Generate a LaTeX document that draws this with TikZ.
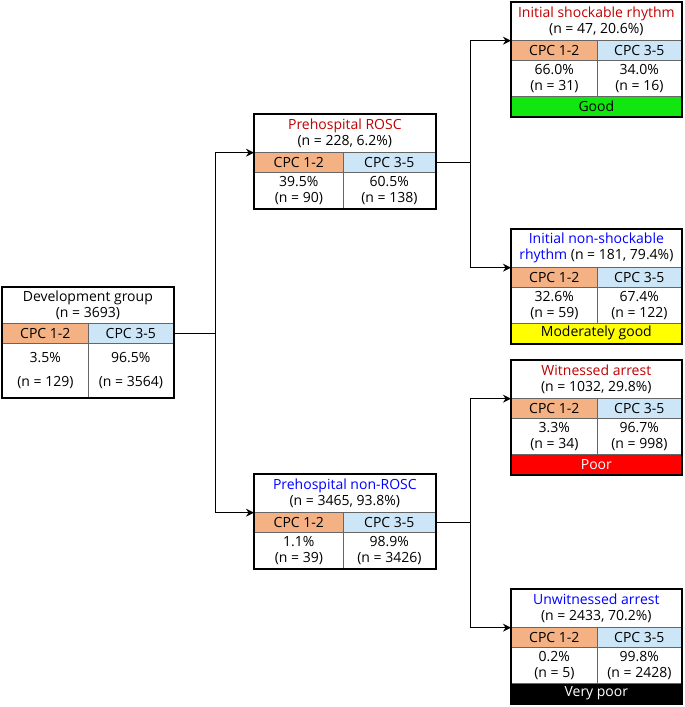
\documentclass[tikz,border=0pt]{standalone}
\usepackage{fontspec}
\setmainfont{Open Sans}
\usetikzlibrary{arrows.meta}

\definecolor{cpclow}{HTML}{F4B183}
\definecolor{cpchigh}{HTML}{CDE6F7}
\definecolor{txtred}{HTML}{C00000}
\definecolor{txtblue}{HTML}{0000FF}
\definecolor{vgood}{HTML}{11E611}
\definecolor{vmod}{HTML}{FFFF00}
\definecolor{vpoor}{HTML}{FF0000}

\tikzset{
  cell/.style={draw=black!60, line width=0.7pt, inner sep=0pt, anchor=north west,
    align=center, font=\fontsize{14}{16}\selectfont},
  titlecell/.style={cell, minimum height=38pt},
  lowhead/.style={cell, fill=cpclow, minimum height=20pt},
  highhead/.style={cell, fill=cpchigh, minimum height=20pt},
  valcell/.style={cell, minimum height=36pt},
  verdict/.style={cell, minimum height=20pt},
  outline/.style={line width=1.8pt},
  link/.style={line width=1.5pt},
  linkarrow/.style={line width=1.5pt, -{Stealth[length=8pt,width=8pt]}}
}

\begin{document}
\begin{tikzpicture}[x=1pt, y=-1pt]
\useasboundingbox (0,0) rectangle (685,707);
% development group
\node[titlecell, minimum width=171pt, minimum height=36pt] (devT) at (2,287) {Development group\\(n = 3693)};
\node[lowhead, minimum width=86pt] (devL) at (2,323) {CPC 1-2};
\node[highhead, minimum width=85pt] (devR) at (88,323) {CPC 3-5};
\node[valcell, minimum width=86pt, minimum height=54pt] (devLv) at (2,343) {3.5\%\\[8pt](n = 129)};
\node[valcell, minimum width=85pt, minimum height=54pt] (devRv) at (88,343) {96.5\%\\[8pt](n = 3564)};
\draw[outline] (devT.north west) rectangle (devRv.south east);
% prehospital ROSC
\node[titlecell, minimum width=181pt] (roscT) at (254,114) {\color{txtred}Prehospital ROSC\\(n = 228, 6.2\%)};
\node[lowhead, minimum width=89pt] (roscL) at (254,152) {CPC 1-2};
\node[highhead, minimum width=92pt] (roscR) at (343,152) {CPC 3-5};
\node[valcell, minimum width=89pt] (roscLv) at (254,172) {39.5\%\\(n = 90)};
\node[valcell, minimum width=92pt] (roscRv) at (343,172) {60.5\%\\(n = 138)};
\draw[outline] (roscT.north west) rectangle (roscRv.south east);
% prehospital non-ROSC
\node[titlecell, minimum width=181pt] (nroscT) at (254,474) {\color{txtblue}Prehospital non-ROSC\\(n = 3465, 93.8\%)};
\node[lowhead, minimum width=89pt] (nroscL) at (254,512) {CPC 1-2};
\node[highhead, minimum width=92pt] (nroscR) at (343,512) {CPC 3-5};
\node[valcell, minimum width=89pt] (nroscLv) at (254,532) {1.1\%\\(n = 39)};
\node[valcell, minimum width=92pt] (nroscRv) at (343,532) {98.9\%\\(n = 3426)};
\draw[outline] (nroscT.north west) rectangle (nroscRv.south east);
% initial shockable rhythm
\node[titlecell, minimum width=170pt] (shockT) at (511,2) {\color{txtred}Initial shockable rhythm\\(n = 47, 20.6\%)};
\node[lowhead, minimum width=86pt] (shockL) at (511,40) {CPC 1-2};
\node[highhead, minimum width=84pt] (shockR) at (597,40) {CPC 3-5};
\node[valcell, minimum width=86pt] (shockLv) at (511,60) {66.0\%\\(n = 31)};
\node[valcell, minimum width=84pt] (shockRv) at (597,60) {34.0\%\\(n = 16)};
\node[verdict, fill=vgood, minimum width=170pt] (shockV) at (511,96) {Good};
\draw[outline] (shockT.north west) rectangle (shockV.south east);
% initial non-shockable rhythm
\node[titlecell, minimum width=170pt] (nshockT) at (511,229) {{\color{txtblue}Initial non-shockable}\\{\color{txtblue}rhythm} (n = 181, 79.4\%)};
\node[lowhead, minimum width=86pt] (nshockL) at (511,267) {CPC 1-2};
\node[highhead, minimum width=84pt] (nshockR) at (597,267) {CPC 3-5};
\node[valcell, minimum width=86pt] (nshockLv) at (511,287) {32.6\%\\(n = 59)};
\node[valcell, minimum width=84pt] (nshockRv) at (597,287) {67.4\%\\(n = 122)};
\node[verdict, fill=vmod, minimum width=170pt] (nshockV) at (511,323) {Moderately good};
\draw[outline] (nshockT.north west) rectangle (nshockV.south east);
% witnessed arrest
\node[titlecell, minimum width=170pt] (witT) at (511,360) {\color{txtred}Witnessed arrest\\(n = 1032, 29.8\%)};
\node[lowhead, minimum width=86pt] (witL) at (511,398) {CPC 1-2};
\node[highhead, minimum width=84pt] (witR) at (597,398) {CPC 3-5};
\node[valcell, minimum width=86pt] (witLv) at (511,418) {3.3\%\\(n = 34)};
\node[valcell, minimum width=84pt] (witRv) at (597,418) {96.7\%\\(n = 998)};
\node[verdict, fill=vpoor, text=white, minimum width=170pt] (witV) at (511,454) {Poor};
\draw[outline] (witT.north west) rectangle (witV.south east);
% unwitnessed arrest
\node[titlecell, minimum width=170pt] (unwT) at (511,589) {\color{txtblue}Unwitnessed arrest\\(n = 2433, 70.2\%)};
\node[lowhead, minimum width=86pt] (unwL) at (511,627) {CPC 1-2};
\node[highhead, minimum width=84pt] (unwR) at (597,627) {CPC 3-5};
\node[valcell, minimum width=86pt] (unwLv) at (511,647) {0.2\%\\(n = 5)};
\node[valcell, minimum width=84pt] (unwRv) at (597,647) {99.8\%\\(n = 2428)};
\node[verdict, fill=black, text=white, minimum width=170pt] (unwV) at (511,683) {Very poor};
\draw[outline] (unwT.north west) rectangle (unwV.south east);
% connectors
\draw[link] (devR.east) -- ++(42,0) coordinate (j1);
\draw[linkarrow] (j1) |- (roscT.south west);
\draw[linkarrow] (j1) |- (nroscT.south west);
\draw[link] (roscR.east) -- ++(35,0) coordinate (j2);
\draw[linkarrow] (j2) |- (shockT.south west);
\draw[linkarrow] (j2) |- (nshockT.south west);
\draw[link] (nroscR.east) -- ++(35,0) coordinate (j3);
\draw[linkarrow] (j3) |- (witT.south west);
\draw[linkarrow] (j3) |- (unwT.south west);
\end{tikzpicture}
\end{document}
